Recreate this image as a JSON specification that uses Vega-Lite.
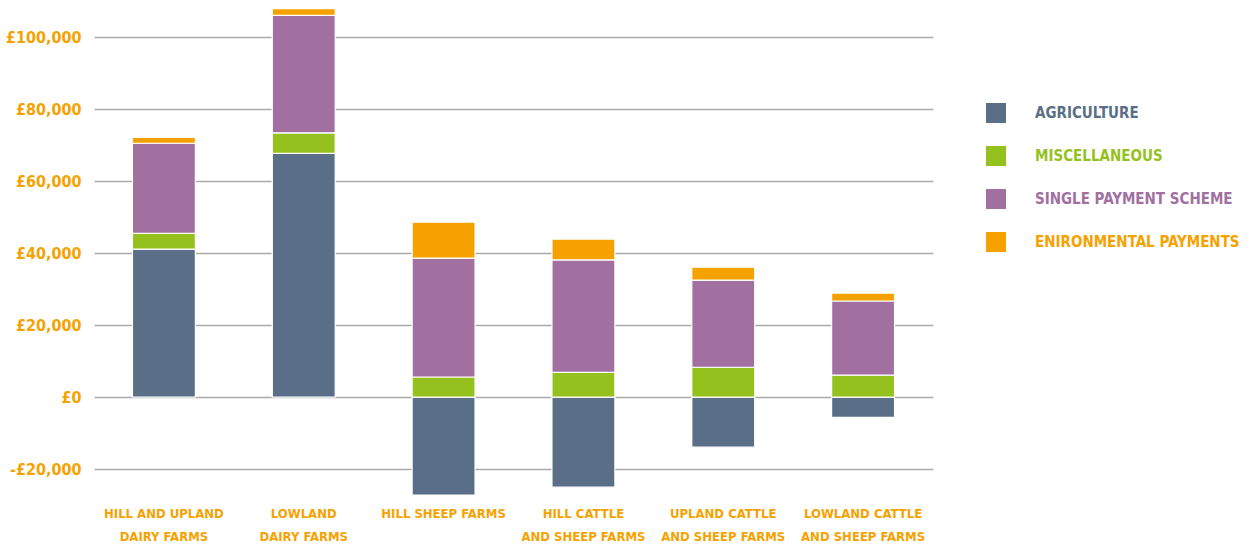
{
  "$schema": "https://vega.github.io/schema/vega-lite/v6.json",
  "width": 839,
  "height": 497,
  "autosize": {"type": "none"},
  "padding": {"left": 94, "top": 1, "right": 321, "bottom": 52},
  "background": "white",
  "config": {
    "view": {"stroke": null},
    "font": "DejaVu Sans Condensed"
  },
  "data": {
    "values": [
      {"farm": "HILL AND UPLAND|DAIRY FARMS", "source": "AGRICULTURE", "k": 1, "value": 41100},
      {"farm": "HILL AND UPLAND|DAIRY FARMS", "source": "MISCELLANEOUS", "k": 2, "value": 4400},
      {"farm": "HILL AND UPLAND|DAIRY FARMS", "source": "SINGLE PAYMENT SCHEME", "k": 3, "value": 25000},
      {"farm": "HILL AND UPLAND|DAIRY FARMS", "source": "ENIRONMENTAL PAYMENTS", "k": 4, "value": 1600},
      {"farm": "LOWLAND|DAIRY FARMS", "source": "AGRICULTURE", "k": 1, "value": 67700},
      {"farm": "LOWLAND|DAIRY FARMS", "source": "MISCELLANEOUS", "k": 2, "value": 5700},
      {"farm": "LOWLAND|DAIRY FARMS", "source": "SINGLE PAYMENT SCHEME", "k": 3, "value": 32600},
      {"farm": "LOWLAND|DAIRY FARMS", "source": "ENIRONMENTAL PAYMENTS", "k": 4, "value": 1900},
      {"farm": "HILL SHEEP FARMS", "source": "AGRICULTURE", "k": 1, "value": -27200},
      {"farm": "HILL SHEEP FARMS", "source": "MISCELLANEOUS", "k": 2, "value": 5600},
      {"farm": "HILL SHEEP FARMS", "source": "SINGLE PAYMENT SCHEME", "k": 3, "value": 33000},
      {"farm": "HILL SHEEP FARMS", "source": "ENIRONMENTAL PAYMENTS", "k": 4, "value": 10000},
      {"farm": "HILL CATTLE|AND SHEEP FARMS", "source": "AGRICULTURE", "k": 1, "value": -25000},
      {"farm": "HILL CATTLE|AND SHEEP FARMS", "source": "MISCELLANEOUS", "k": 2, "value": 6900},
      {"farm": "HILL CATTLE|AND SHEEP FARMS", "source": "SINGLE PAYMENT SCHEME", "k": 3, "value": 31200},
      {"farm": "HILL CATTLE|AND SHEEP FARMS", "source": "ENIRONMENTAL PAYMENTS", "k": 4, "value": 5800},
      {"farm": "UPLAND CATTLE|AND SHEEP FARMS", "source": "AGRICULTURE", "k": 1, "value": -13900},
      {"farm": "UPLAND CATTLE|AND SHEEP FARMS", "source": "MISCELLANEOUS", "k": 2, "value": 8300},
      {"farm": "UPLAND CATTLE|AND SHEEP FARMS", "source": "SINGLE PAYMENT SCHEME", "k": 3, "value": 24200},
      {"farm": "UPLAND CATTLE|AND SHEEP FARMS", "source": "ENIRONMENTAL PAYMENTS", "k": 4, "value": 3600},
      {"farm": "LOWLAND CATTLE|AND SHEEP FARMS", "source": "AGRICULTURE", "k": 1, "value": -5600},
      {"farm": "LOWLAND CATTLE|AND SHEEP FARMS", "source": "MISCELLANEOUS", "k": 2, "value": 6100},
      {"farm": "LOWLAND CATTLE|AND SHEEP FARMS", "source": "SINGLE PAYMENT SCHEME", "k": 3, "value": 20600},
      {"farm": "LOWLAND CATTLE|AND SHEEP FARMS", "source": "ENIRONMENTAL PAYMENTS", "k": 4, "value": 2200}
    ]
  },
  "mark": {"type": "bar", "stroke": "white", "strokeWidth": 1.2},
  "encoding": {
    "x": {
      "field": "farm",
      "type": "nominal",
      "sort": null,
      "title": null,
      "scale": {"paddingInner": 0.55, "paddingOuter": 0.275},
      "axis": {
        "domain": false,
        "ticks": false,
        "labelAngle": 0,
        "labelExpr": "split(datum.label, '|')",
        "labelFont": "DejaVu Sans Condensed",
        "labelFontWeight": "bold",
        "labelFontSize": 13,
        "labelColor": "#f5a200",
        "labelPadding": 9,
        "labelLineHeight": 23,
        "labelBaseline": "top",
        "labelLimit": 200
      }
    },
    "y": {
      "field": "value",
      "type": "quantitative",
      "aggregate": "sum",
      "stack": "zero",
      "title": null,
      "scale": {"domain": [-28000, 110000], "nice": false, "zero": false},
      "axis": {
        "values": [-20000, 0, 20000, 40000, 60000, 80000, 100000],
        "domain": false,
        "ticks": false,
        "grid": true,
        "gridColor": "#a9a9a9",
        "gridWidth": 1.5,
        "labelExpr": "datum.value < 0 ? '-£' + format(-datum.value, ',') : '£' + format(datum.value, ',')",
        "labelFont": "DejaVu Sans Condensed",
        "labelFontWeight": "bold",
        "labelFontSize": 16,
        "labelColor": "#f5a200",
        "labelPadding": 13
      }
    },
    "color": {
      "field": "source",
      "type": "nominal",
      "title": null,
      "scale": {
        "domain": ["AGRICULTURE", "MISCELLANEOUS", "SINGLE PAYMENT SCHEME", "ENIRONMENTAL PAYMENTS"],
        "range": ["#5a6f87", "#95c11f", "#a270a0", "#f5a200"]
      },
      "legend": {
        "orient": "none",
        "legendX": 892,
        "legendY": 102,
        "padding": 0,
        "symbolType": "square",
        "symbolSize": 400,
        "symbolStrokeWidth": 0,
        "symbolOpacity": 1,
        "rowPadding": 23,
        "labelOffset": 29,
        "labelFont": "DejaVu Sans Condensed",
        "labelFontWeight": "bold",
        "labelFontSize": 15,
        "labelLimit": 300,
        "labelColor": {"expr": "scale('color', datum.value)"}
      }
    },
    "order": {"field": "k", "type": "quantitative"}
  }
}
